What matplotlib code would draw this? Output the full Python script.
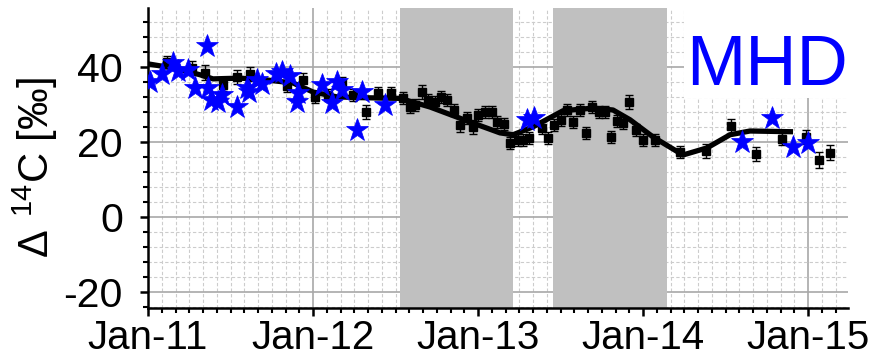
import matplotlib
matplotlib.use("Agg")
import matplotlib.pyplot as plt
from matplotlib.ticker import MultipleLocator, FixedLocator, FixedFormatter
from matplotlib.patches import Rectangle

plt.rcParams['font.family'] = ['Liberation Sans', 'DejaVu Sans']
plt.rcParams['mathtext.fontset'] = 'custom'
plt.rcParams['mathtext.rm'] = 'Liberation Sans'
plt.rcParams['axes.unicode_minus'] = False

# MHD flask samples (decimal year, D14C permil, 1-sigma)
flask_t = [2011.115, 2011.267, 2011.345, 2011.455, 2011.539, 2011.618, 2011.842, 2011.939,
           2012.012, 2012.091, 2012.176, 2012.242, 2012.321, 2012.394, 2012.473, 2012.545,
           2012.588, 2012.618, 2012.661, 2012.697, 2012.739, 2012.776, 2012.812, 2012.855,
           2012.891, 2012.933, 2012.970, 2013.000, 2013.042, 2013.085, 2013.115, 2013.158,
           2013.194, 2013.242, 2013.273, 2013.309, 2013.388, 2013.424, 2013.461, 2013.503,
           2013.539, 2013.576, 2013.618, 2013.655, 2013.691, 2013.733, 2013.770, 2013.806,
           2013.842, 2013.879, 2013.915, 2013.958, 2014.000, 2014.073, 2014.224, 2014.382,
           2014.533, 2014.685, 2014.842, 2014.988, 2015.067, 2015.133]
flask_d14c = [41.3, 39.7, 38.4, 35.2, 37.3, 38.1, 34.8, 36.5,
              32.0, 32.5, 35.7, 32.5, 28.0, 33.0, 33.0, 31.7,
              29.3, 29.9, 33.3, 31.2, 30.7, 32.0, 31.2, 28.5,
              24.5, 26.4, 24.0, 27.2, 28.0, 28.0, 25.3, 24.8,
              19.7, 20.5, 20.5, 21.0, 23.7, 21.0, 24.5, 25.9,
              28.5, 25.3, 28.5, 22.4, 29.3, 28.0, 28.0, 21.3,
              25.6, 25.0, 30.7, 23.2, 20.5, 20.5, 17.3, 17.6,
              24.3, 16.8, 20.8, 21.3, 15.2, 17.1]
flask_err = [1.6, 1.8, 2.0, 1.6, 1.8, 1.8, 1.6, 1.8,
             1.6, 1.6, 1.6, 1.6, 1.8, 1.6, 1.6, 1.6,
             1.6, 1.6, 1.8, 1.6, 1.6, 1.6, 1.6, 1.6,
             1.8, 1.6, 1.8, 1.6, 1.6, 1.6, 1.6, 1.6,
             1.6, 1.6, 1.6, 1.6, 1.6, 1.6, 1.6, 1.6,
             1.6, 1.6, 1.6, 1.6, 1.6, 1.6, 1.6, 1.6,
             1.6, 1.6, 1.8, 1.6, 1.6, 1.6, 1.6, 1.8,
             1.8, 1.8, 1.6, 1.8, 2.2, 2.0]

# integrated samples
integ_t = [2011.012, 2011.085, 2011.152, 2011.182, 2011.242, 2011.285, 2011.358, 2011.364,
           2011.382, 2011.424, 2011.448, 2011.539, 2011.600, 2011.612, 2011.661, 2011.691,
           2011.776, 2011.812, 2011.861, 2011.903, 2011.909, 2012.055, 2012.115, 2012.145,
           2012.176, 2012.267, 2012.297, 2012.436, 2013.297, 2013.339, 2014.600, 2014.782,
           2014.909, 2015.000]
integ_d14c = [36.0, 38.0, 41.0, 39.0, 39.2, 34.5, 45.6, 34.4,
              31.2, 30.7, 32.5, 29.3, 34.4, 33.3, 36.5, 35.5,
              38.2, 38.7, 37.5, 30.7, 33.0, 35.2, 30.4, 36.0,
              33.9, 23.2, 33.3, 29.9, 25.9, 26.4, 20.0, 26.4,
              18.7, 19.7]

# smoothed curve fit
fit_t = [2011.000, 2011.152, 2011.315, 2011.394, 2011.558, 2011.721, 2011.879, 2012.000,
         2012.145, 2012.285, 2012.527, 2012.709, 2012.970, 2013.133, 2013.212, 2013.333,
         2013.515, 2013.697, 2013.818, 2013.921, 2014.061, 2014.242, 2014.388, 2014.527,
         2014.648, 2014.909]
fit_d14c = [40.8, 39.7, 37.9, 36.8, 37.0, 36.5, 35.7, 33.3,
            32.0, 31.8, 31.6, 29.3, 25.0, 22.4, 21.9, 24.0,
            28.3, 29.0, 28.5, 25.9, 21.3, 16.5, 18.4, 21.9,
            22.9, 22.7]

# shaded periods
shade_start = [2012.527, 2013.455]
shade_end = [2013.212, 2014.145]

years = [2011, 2012, 2013, 2014, 2015]
year_labels = ["Jan-11", "Jan-12", "Jan-13", "Jan-14", "Jan-15"]

fig = plt.figure(figsize=(8.7, 3.61), dpi=100)
ax = fig.add_axes([148/870, 53/361, 700/870, 300/361])

ax.set_xlim(2011.0, 2015.242)
ax.set_ylim(-24.3, 55.7)

ax.xaxis.set_major_locator(FixedLocator(years))
ax.xaxis.set_major_formatter(FixedFormatter(year_labels))
ax.xaxis.set_minor_locator(MultipleLocator(1/12))
ax.yaxis.set_major_locator(MultipleLocator(20))
ax.yaxis.set_minor_locator(MultipleLocator(4))

ax.grid(which='major', color='#a8a8a8', linewidth=1.2, linestyle='-', zorder=0)
ax.grid(which='minor', color='#cccccc', linewidth=0.8, linestyle=(0, (3, 2)), zorder=0)
ax.set_axisbelow(True)

for s, e in zip(shade_start, shade_end):
    ax.axvspan(s, e, color='#c0c0c0', lw=0, zorder=1)

ax.add_patch(Rectangle((2014.248, 31.7), 1.0, 30, facecolor='white',
                       edgecolor='none', zorder=1))
ax.text(2014.75, 35.2, "MHD", color='#0000ff', fontsize=51,
        ha='center', va='baseline', zorder=6)

ax.errorbar(flask_t, flask_d14c, yerr=flask_err, fmt='s', color='black',
            ms=6, ecolor='black', elinewidth=1, capsize=3, capthick=1, zorder=3)
ax.plot(fit_t, fit_d14c, color='black', lw=3.8, solid_capstyle='butt',
        solid_joinstyle='round', zorder=4)
ax.plot(integ_t, integ_d14c, '*', color='#0000ff', ms=17, mec='#0000ff', mew=0.5, zorder=5)

for side in ['top', 'right']:
    ax.spines[side].set_visible(False)
for side in ['left', 'bottom']:
    ax.spines[side].set_linewidth(1.8)

ax.tick_params(which='major', direction='out', length=6, width=1.8)
ax.tick_params(which='minor', direction='out', length=3.5, width=1.5)
ax.tick_params(axis='x', labelsize=29, pad=2)
ax.tick_params(axis='y', labelsize=29.5, pad=12)

fig.text(35/870, 1 - 168/361, r"$\Delta\ ^{14}$C [‰]", fontsize=30,
         rotation=90, ha='center', va='center')

plt.savefig("out.png", dpi=100)
